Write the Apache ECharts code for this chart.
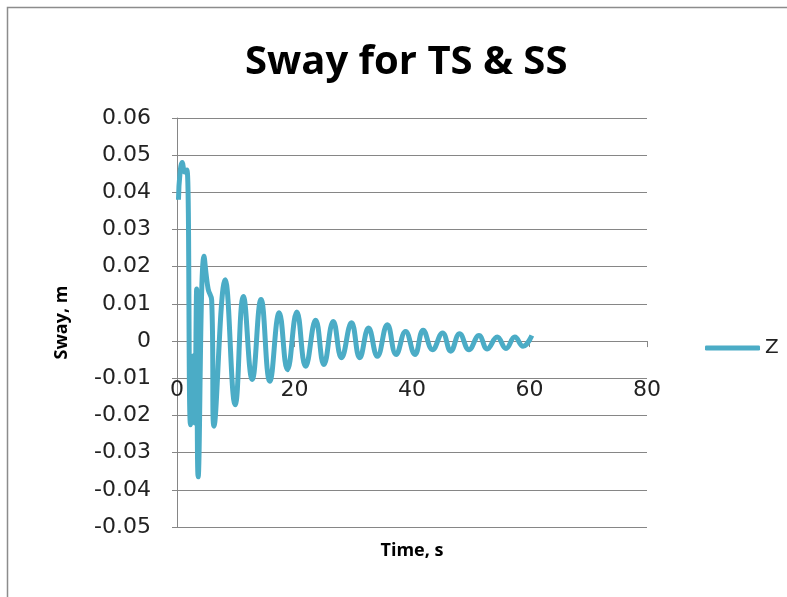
<!DOCTYPE html>
<html>
<head>
<meta charset="utf-8">
<script src="https://cdn.jsdelivr.net/npm/echarts@6/dist/echarts.min.js"></script>
<style>
  html, body { margin: 0; padding: 0; background: #fff; }
  #chart { width: 787px; height: 597px; }
</style>
</head>
<body>
<div id="chart"></div>
<script>
// Sway response (m) over time (s): successive peaks and troughs of the decaying oscillation
const timeS = [0.25, 0.5, 0.9, 1.3, 1.7, 2.3, 2.75, 3.0, 3.35, 3.6, 4.6, 5.3, 5.9, 6.3,
  8.2, 9.9, 11.3, 12.8, 14.3, 15.8, 17.4, 18.8, 20.4, 21.9, 23.6, 25.0, 26.6, 28.0,
  29.7, 31.1, 32.6, 34.1, 35.8, 37.3, 38.9, 40.5, 41.9, 43.5, 45.2, 46.6, 48.1, 49.7,
  51.4, 52.8, 54.5, 56.0, 57.5, 58.9, 60.4];
const swayM = [0.038, 0.045, 0.048, 0.0455, 0.046, -0.0225, -0.004, -0.022, 0.014, -0.0365, 0.0228, 0.014, 0.011, -0.0229,
  0.0165, -0.0171, 0.012, -0.0103, 0.0112, -0.0108, 0.0076, -0.0077, 0.0078, -0.0068, 0.0056, -0.0063, 0.0053, -0.0045,
  0.0049, -0.0045, 0.0035, -0.0041, 0.0044, -0.0036, 0.0026, -0.0036, 0.0029, -0.0023, 0.0022, -0.0027, 0.002, -0.0023,
  0.0015, -0.0021, 0.0011, -0.002, 0.0011, -0.0014, 0.0015];
const seriesName = 'Z';
const xTicks = { min: 0, max: 80, interval: 20 };
const yTicks = { min: -0.05, max: 0.06, interval: 0.01 };

const points = timeS.map((t, i) => [t, swayM[i]]);

const gridTop = 118, gridBottom = 70, chartH = 597;
const plotH = chartH - gridTop - gridBottom;
// distance from the bottom edge of the plot up to the zero line
const zeroLift = plotH * (0 - yTicks.min) / (yTicks.max - yTicks.min);

const chart = echarts.init(document.getElementById('chart'));
const labelFont = 'DejaVu Sans';
const lineColor = '#4BACC6';

chart.setOption({
  animation: false,
  backgroundColor: '#ffffff',
  title: {
    text: 'Sway for TS & SS',
    left: 240,
    top: 38,
    textStyle: { fontFamily: 'Open Sans', fontWeight: 'bold', fontSize: 40, color: '#000' }
  },
  legend: {
    left: 700,
    top: 333,
    itemWidth: 55,
    itemHeight: 5,
    itemGap: 8,
    icon: 'roundRect',
    textStyle: { fontFamily: labelFont, fontSize: 20, color: '#222' },
    data: [seriesName]
  },
  grid: { left: 177, right: 140, top: gridTop, bottom: gridBottom, containLabel: false, outerBoundsMode: 'none' },
  xAxis: {
    type: 'value',
    min: xTicks.min, max: xTicks.max, interval: xTicks.interval,
    offset: -zeroLift,
    name: 'Time, s',
    nameLocation: 'middle',
    nameGap: 201,
    nameTextStyle: { fontFamily: 'Open Sans', fontWeight: 'bold', fontSize: 18, color: '#000' },
    axisLine: { onZero: false, lineStyle: { color: '#868686', width: 1 } },
    axisTick: { show: true, length: 6, lineStyle: { color: '#868686' } },
    axisLabel: { margin: 38, fontFamily: labelFont, fontSize: 22, color: '#222' },
    splitLine: { show: false }
  },
  yAxis: {
    type: 'value',
    min: yTicks.min, max: yTicks.max, interval: yTicks.interval,
    name: 'Sway, m',
    nameLocation: 'middle',
    nameGap: 106,
    nameRotate: 90,
    nameTextStyle: { fontFamily: 'Open Sans', fontWeight: 'bold', fontSize: 18, color: '#000' },
    axisLine: { show: true, lineStyle: { color: '#868686', width: 1 } },
    axisTick: { show: true, length: 5, lineStyle: { color: '#868686' } },
    axisLabel: {
      margin: 26, fontFamily: labelFont, fontSize: 22, color: '#222',
      formatter: v => (Math.abs(v) < 1e-9 ? '0' : v.toFixed(2))
    },
    splitLine: { show: true, lineStyle: { color: '#868686', width: 1 } }
  },
  graphic: [{
    type: 'rect',
    shape: { x: 7.5, y: 7.5, width: 800, height: 600 },
    style: { fill: null, stroke: '#8c8c8c', lineWidth: 1.5 },
    silent: true,
    z: -1
  }],
  series: [{
    name: seriesName,
    type: 'line',
    data: points,
    smooth: 0.45,
    symbol: 'none',
    lineStyle: { color: lineColor, width: 5 },
    itemStyle: { color: lineColor }
  }]
});
</script>
</body>
</html>
